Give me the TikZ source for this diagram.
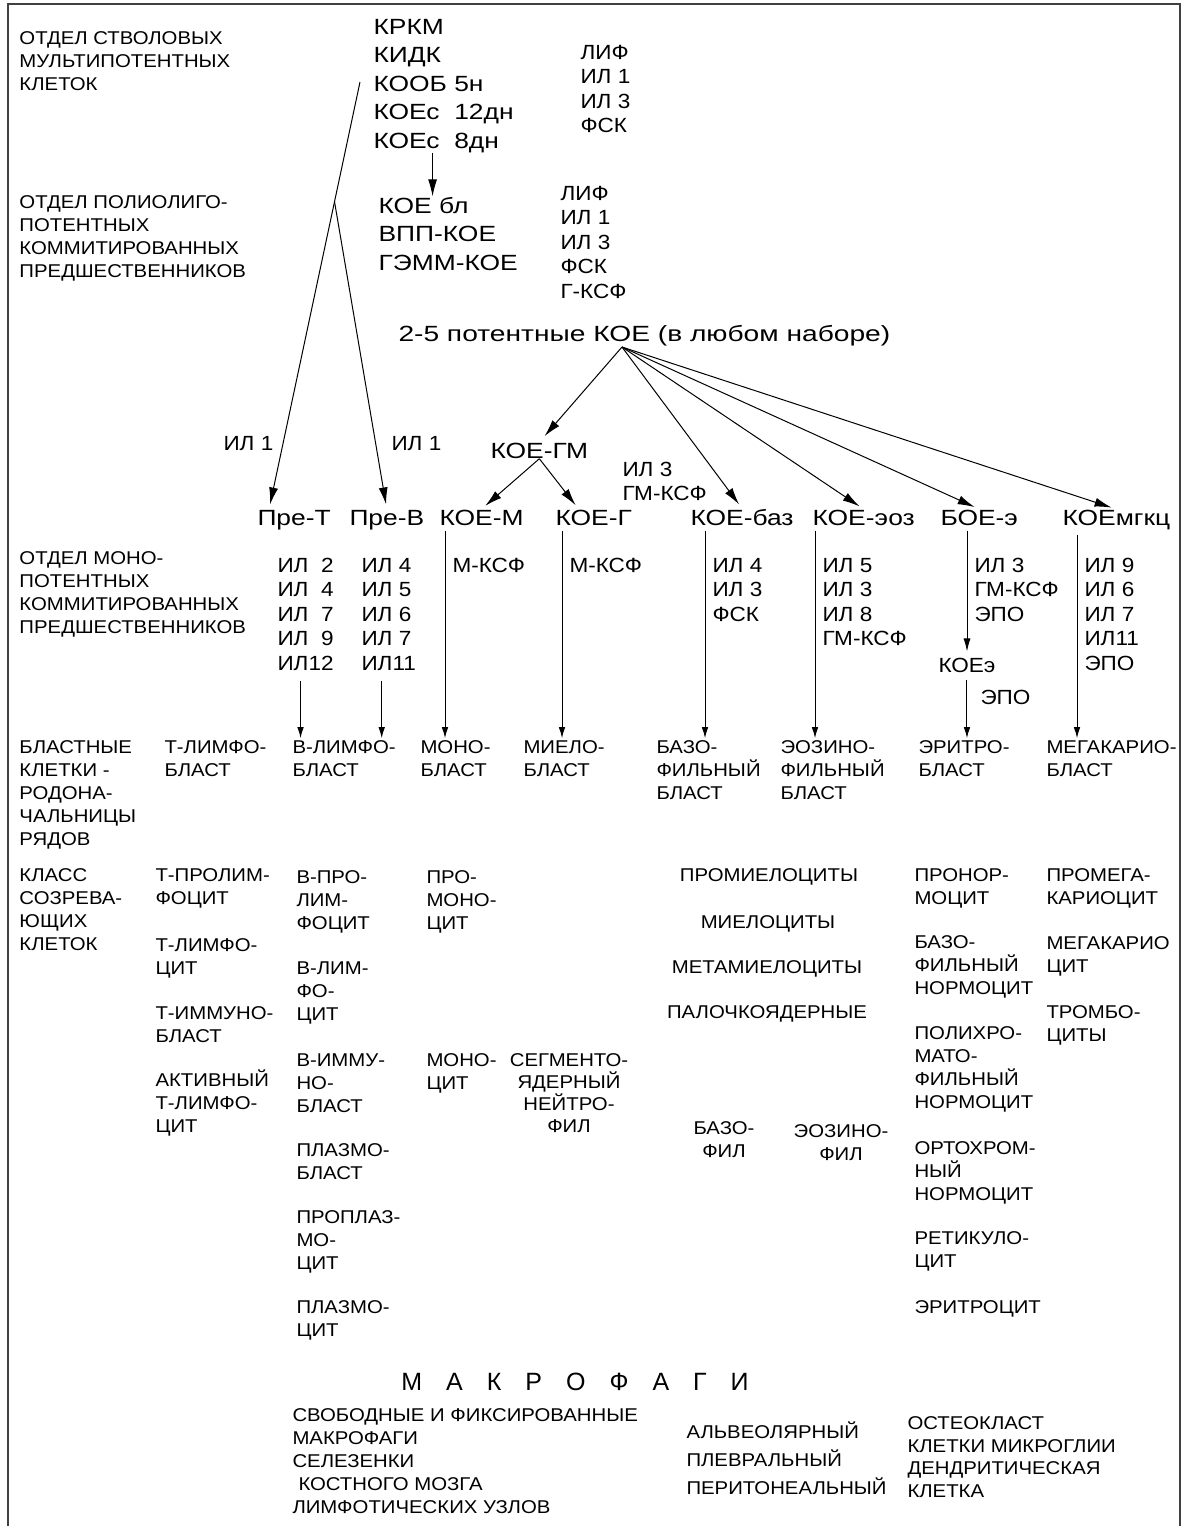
\documentclass[tikz,border=0pt]{standalone}
\usepackage{fontspec}
\setmainfont{Liberation Sans}
\newfontfamily\narrowsans[FakeStretch=1.1]{Liberation Sans}
\newfontfamily\widesans[FakeStretch=1.2]{Liberation Sans}
\newfontfamily\widersans[FakeStretch=1.28]{Liberation Sans}
\usepackage{tikz}
\usetikzlibrary{arrows.meta,calc}

% multi-line nodes: y is the baseline of the last line
\tikzset{
  txt/.style={anchor=base west, inner sep=0pt, align=left,
    font=\narrowsans\fontsize{18.5}{23}\selectfont},
  fac/.style={txt, font=\narrowsans\fontsize{20.5}{24.5}\selectfont},
  cfu/.style={txt, font=\widesans\fontsize{22}{28.5}\selectfont},
  ctr/.style={txt, anchor=base, align=center},
  short/.style={->, >={Latex[length=11pt,width=6.5pt]}, shorten >=2pt}
}

\begin{document}
\begin{tikzpicture}[x=1pt, y=-1pt, >={Latex[length=17pt,width=9pt]}, line width=1pt]
   \useasboundingbox (0,0) rectangle (1186,1526);
   \draw [line width=1.3pt, black!75] (8,1526) -- (8,4) -- (1180,4) -- (1180,1526) ;

   % left column
   \node[txt] (stemlbl) at (19,90.6) {ОТДЕЛ СТВОЛОВЫХ\\МУЛЬТИПОТЕНТНЫХ\\КЛЕТОК};
   \node[txt] (polylbl) at (19,277.6) {ОТДЕЛ ПОЛИОЛИГО-\\ПОТЕНТНЫХ\\КОММИТИРОВАННЫХ\\ПРЕДШЕСТВЕННИКОВ};
   \node[txt] (monolbl) at (19,633.6) {ОТДЕЛ МОНО-\\ПОТЕНТНЫХ\\КОММИТИРОВАННЫХ\\ПРЕДШЕСТВЕННИКОВ};
   \node[txt] (blastlbl) at (19,845.6) {БЛАСТНЫЕ\\КЛЕТКИ -\\РОДОНА-\\ЧАЛЬНИЦЫ\\РЯДОВ};
   \node[txt] (classlbl) at (19,950.6) {КЛАСС\\СОЗРЕВА-\\ЮЩИХ\\КЛЕТОК};

   % upper part
   \node[cfu] (stem) at (373,148) {КРКМ\\КИДК\\КООБ 5н\\КОЕс\ \ 12дн\\КОЕс\ \ 8дн};
   \node[fac] (gfA) at (580,132.8) {ЛИФ\\ИЛ 1\\ИЛ 3\\ФСК};
   \node[cfu] (poly) at (378,270) {КОЕ бл\\ВПП-КОЕ\\ГЭММ-КОЕ};
   \node[fac] (gfB) at (560,298.3) {ЛИФ\\ИЛ 1\\ИЛ 3\\ФСК\\Г-КСФ};
   \node[cfu, font=\widersans\fontsize{22}{28.5}\selectfont] (potent) at (398,341) {2-5 потентные КОЕ (в любом наборе)};
   \node[cfu] (koegm) at (490,458) {КОЕ-ГМ};
   \node[fac] (il1a) at (223,450.3) {ИЛ 1};
   \node[fac] (il1b) at (391,450.3) {ИЛ 1};
   \node[fac] (gmf) at (622,500.8) {ИЛ 3\\ГМ-КСФ};

   \node[cfu] (pret) at (257,525) {Пре-Т};
   \node[cfu] (preb) at (349,525) {Пре-В};
   \node[cfu] (koem) at (439,525) {КОЕ-М};
   \node[cfu] (koeg) at (555,525) {КОЕ-Г};
   \node[cfu] (koebaz) at (690,525) {КОЕ-баз};
   \node[cfu] (koeeoz) at (812,525) {КОЕ-эоз};
   \node[cfu] (boee) at (940,525) {БОЕ-э};
   \node[cfu] (koemg) at (1062,525) {КОЕмгкц};

   \node[fac] (ilT) at (277,670.3) {ИЛ\ \ 2\\ИЛ\ \ 4\\ИЛ\ \ 7\\ИЛ\ \ 9\\ИЛ12};
   \node[fac] (ilB) at (361,670.3) {ИЛ 4\\ИЛ 5\\ИЛ 6\\ИЛ 7\\ИЛ11};
   \node[fac] (mcsfA) at (452,572.3) {М-КСФ};
   \node[fac] (mcsfB) at (569,572.3) {М-КСФ};
   \node[fac] (ilbaz) at (712,621.3) {ИЛ 4\\ИЛ 3\\ФСК};
   \node[fac] (ileoz) at (822,645.8) {ИЛ 5\\ИЛ 3\\ИЛ 8\\ГМ-КСФ};
   \node[fac] (ilery) at (974,621.3) {ИЛ 3\\ГМ-КСФ\\ЭПО};
   \node[fac] (ilmg) at (1084,670.3) {ИЛ 9\\ИЛ 6\\ИЛ 7\\ИЛ11\\ЭПО};
   \node[fac] (koeer) at (938,672.3) {КОЕэ};
   \node[fac] (epo) at (980,704.3) {ЭПО};

   % blasts
   \node[txt] (tbl) at (164,776.6) {Т-ЛИМФО-\\БЛАСТ};
   \node[txt] (vlb) at (292,776.6) {В-ЛИМФО-\\БЛАСТ};
   \node[txt] (mono) at (420,776.6) {МОНО-\\БЛАСТ};
   \node[txt] (myelo) at (523,776.6) {МИЕЛО-\\БЛАСТ};
   \node[txt] (basbl) at (656,799.6) {БАЗО-\\ФИЛЬНЫЙ\\БЛАСТ};
   \node[txt] (eosbl) at (780,799.6) {ЭОЗИНО-\\ФИЛЬНЫЙ\\БЛАСТ};
   \node[txt] (erybl) at (918,776.6) {ЭРИТРО-\\БЛАСТ};
   \node[txt] (megbl) at (1046,776.6) {МЕГАКАРИО-\\БЛАСТ};

   % maturing cells
   \node[txt] (tpro) at (155,904.6) {Т-ПРОЛИМ-\\ФОЦИТ};
   \node[txt] (tlym) at (155,974.6) {Т-ЛИМФО-\\ЦИТ};
   \node[txt] (timm) at (155,1042.6) {Т-ИММУНО-\\БЛАСТ};
   \node[txt] (tact) at (155,1132.6) {АКТИВНЫЙ\\Т-ЛИМФО-\\ЦИТ};
   \node[txt] (bpro) at (296,929.6) {В-ПРО-\\ЛИМ-\\ФОЦИТ};
   \node[txt] (blym) at (296,1020.6) {В-ЛИМ-\\ФО-\\ЦИТ};
   \node[txt] (bimm) at (296,1112.6) {В-ИММУ-\\НО-\\БЛАСТ};
   \node[txt] (plbl) at (296,1179.6) {ПЛАЗМО-\\БЛАСТ};
   \node[txt] (pplc) at (296,1269.6) {ПРОПЛАЗ-\\МО-\\ЦИТ};
   \node[txt] (plc) at (296,1336.6) {ПЛАЗМО-\\ЦИТ};
   \node[txt] (promono) at (426,929.6) {ПРО-\\МОНО-\\ЦИТ};
   \node[txt] (monoc) at (426,1089.6) {МОНО-\\ЦИТ};
   \node[ctr, font=\narrowsans\fontsize{18.5}{22}\selectfont] (segm) at (569,1132.6) {СЕГМЕНТО-\\ЯДЕРНЫЙ\\НЕЙТРО-\\ФИЛ};
   \node[ctr] (promyel) at (769,881.6) {ПРОМИЕЛОЦИТЫ};
   \node[ctr] (myel) at (768,928.6) {МИЕЛОЦИТЫ};
   \node[ctr] (metamyel) at (767,973.6) {МЕТАМИЕЛОЦИТЫ};
   \node[ctr] (band) at (767,1018.6) {ПАЛОЧКОЯДЕРНЫЕ};
   \node[ctr] (baso) at (724,1157.6) {БАЗО-\\ФИЛ};
   \node[ctr] (eosin) at (841,1160.6) {ЭОЗИНО-\\ФИЛ};
   \node[txt] (pronor) at (914,904.6) {ПРОНОР-\\МОЦИТ};
   \node[txt] (basnor) at (914,994.6) {БАЗО-\\ФИЛЬНЫЙ\\НОРМОЦИТ};
   \node[txt] (polnor) at (914,1108.6) {ПОЛИХРО-\\МАТО-\\ФИЛЬНЫЙ\\НОРМОЦИТ};
   \node[txt] (ortnor) at (914,1200.6) {ОРТОХРОМ-\\НЫЙ\\НОРМОЦИТ};
   \node[txt] (retic) at (914,1267.6) {РЕТИКУЛО-\\ЦИТ};
   \node[txt] (eryc) at (914,1313.6) {ЭРИТРОЦИТ};
   \node[txt] (promeg) at (1046,904.6) {ПРОМЕГА-\\КАРИОЦИТ};
   \node[txt] (megac) at (1046,972.6) {МЕГАКАРИО\\ЦИТ};
   \node[txt] (thromb) at (1046,1041.6) {ТРОМБО-\\ЦИТЫ};

   % macrophages
   \node[anchor=base, inner sep=0pt, font=\fontsize{25}{30}\selectfont] (macro) at (575,1390) {\spaceskip=24pt М А К Р О Ф А Г И};
   \node[txt] (svob) at (292,1513.6) {СВОБОДНЫЕ И ФИКСИРОВАННЫЕ\\МАКРОФАГИ\\СЕЛЕЗЕНКИ\\\hspace*{6pt}КОСТНОГО МОЗГА\\ЛИМФОТИЧЕСКИХ УЗЛОВ};
   \node[txt, font=\narrowsans\fontsize{18.5}{28}\selectfont] (alv) at (686,1494.6) {АЛЬВЕОЛЯРНЫЙ\\ПЛЕВРАЛЬНЫЙ\\ПЕРИТОНЕАЛЬНЫЙ};
   \node[txt, font=\narrowsans\fontsize{18.5}{22.5}\selectfont] (osteo) at (907,1497.1) {ОСТЕОКЛАСТ\\КЛЕТКИ МИКРОГЛИИ\\ДЕНДРИТИЧЕСКАЯ\\КЛЕТКА};

   % connectors
   \coordinate (s8) at ([xshift=-11pt]stem.south);
   \draw [->] (s8) -- (s8 |- poly.north) ;
   \coordinate (src) at (360,82);
   \coordinate (tipT) at ([xshift=12pt]pret.north west);
   \coordinate (fork) at ($(src)!0.28!(tipT)$);
   \draw [->, shorten >=5pt] (src) -- (tipT) ;
   \draw [->, shorten >=5pt] (fork) -- (preb.north) ;

   \coordinate (apex) at (622,347);
   \draw [->, shorten >=8pt] (apex) -- (koegm.north) ;
   \foreach \n in {koebaz,koeeoz,boee,koemg}
      \draw [->, shorten >=5pt] (apex) -- (\n.north) ;
   \draw [->, shorten >=5pt] (koegm.south) -- (koem.north) ;
   \draw [->, shorten >=5pt] (koegm.south) -- ([xshift=-15pt]koeg.north) ;

   \coordinate (cT) at ($(ilT.south)+(-5,10)$);
   \coordinate (cB) at ($(ilB.south)+(-7,10)$);
   \draw [short] (cT) -- (cT |- vlb.north) ;
   \draw [short] (cB) -- (cB |- vlb.north) ;
   \foreach \up/\lst/\dn in {koem/mcsfA/mono, koeg/mcsfB/myelo, koebaz/ilbaz/basbl, koeeoz/ileoz/eosbl, koemg/ilmg/megbl} {
      \coordinate (c\up) at ($(\up.south -| \lst.west)+(-7,5)$);
      \draw [short] (c\up) -- (c\up |- \dn.north) ;
   }
   \coordinate (cboee) at ($(boee.south -| ilery.west)+(-7,5)$);
   \draw [->, >={Latex[length=13pt,width=7pt]}, shorten >=6pt] (cboee) -- (cboee |- koeer.north) ;
   \draw [short, shorten <=7pt] (koeer.south) -- (koeer.south |- erybl.north) ;
 \end{tikzpicture}
\end{document}
